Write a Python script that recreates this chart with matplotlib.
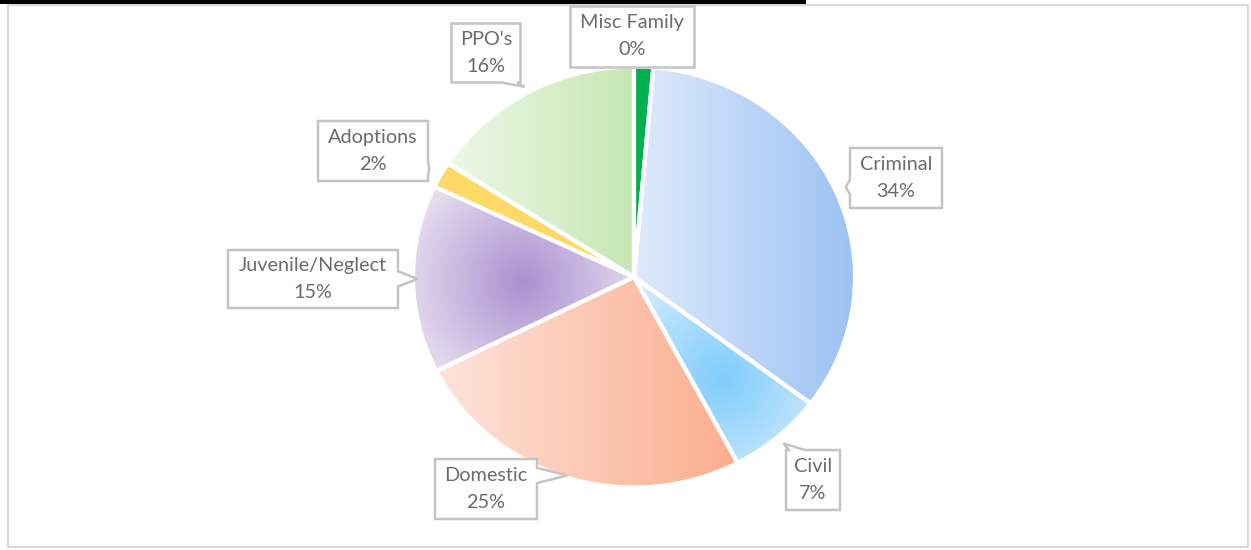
import numpy as np
import matplotlib
matplotlib.use("Agg")
import matplotlib.pyplot as plt
from matplotlib.patches import Polygon, Rectangle
from matplotlib.colors import to_rgb

# ---- data ----
categories = ["Misc Family", "Criminal", "Civil", "Domestic", "Juvenile/Neglect", "Adoptions", "PPO's"]
values = [1.4, 34, 7, 25.5, 14.5, 2, 16]
pct_labels = ["0%", "34%", "7%", "25%", "15%", "2%", "16%"]

# ---- styles ----
fills = [
    ("solid", "#00b050"),
    ("linear", "#dfeafb", "#9cc2f3"),
    ("radial", (722, 378), "#7fcdfc", "#d2ebfd", 120),
    ("linear", "#fde4db", "#fbad8d"),
    ("radial", (522, 282), "#ac90d0", "#e4dcef", 120),
    ("solid", "#ffd966"),
    ("linear", "#eef8e9", "#c6e7b2"),
]
# label boxes (pixel centre x, centre y, width, height)
boxes = [
    (632, 36, 124, 61),
    (896, 178, 92, 60),
    (813, 480, 54, 60),
    (486, 489, 102, 60),
    (313, 279, 170, 58),
    (373, 151, 110, 60),
    (486, 53, 69, 59),
]
tip_k = [None, 1.05, 1.04, 0.99, 0.98, 1.06, 1.03]

W, H = 1251, 550
SY = 1.05
plt.rcParams['font.family'] = ['Lato', 'DejaVu Sans']
fig = plt.figure(figsize=(W / 100, H / 100), dpi=100)
ax = fig.add_axes([0, 0, 1, 1])


def P(px, py):
    return np.array([px, (H - py) * SY])


cx, cy = P(634, 277)
R = 221
wedges, _ = ax.pie(values, startangle=90, counterclock=False, center=(cx, cy), radius=R,
                   explode=[0.012] * len(values), frame=True,
                   wedgeprops=dict(edgecolor="white", linewidth=3))

for w, f in zip(wedges, fills):
    w.set_zorder(3)
    if f[0] == "solid":
        w.set_facecolor(f[1])
        continue
    w.set_facecolor("none")
    ext = w.get_path().transformed(w.get_patch_transform()).get_extents()
    x0, y0, x1, y1 = ext.x0, ext.y0, ext.x1, ext.y1
    n = 300
    if f[0] == "linear":
        c0, c1 = np.array(to_rgb(f[1])), np.array(to_rgb(f[2]))
        t = np.linspace(0, 1, n)[None, :, None]
        img = c0 * (1 - t) + c1 * t
        img = np.repeat(img, 2, axis=0)
    else:
        ccx, ccy = P(*f[1])
        c0, c1 = np.array(to_rgb(f[2])), np.array(to_rgb(f[3]))
        xs = np.linspace(x0, x1, n)
        ys = np.linspace(y0, y1, n)
        X, Y = np.meshgrid(xs, ys)
        d = np.hypot(X - ccx, (Y - ccy) / SY)
        t = np.clip(d / f[4], 0, 1)[:, :, None]
        img = c0 * (1 - t) + c1 * t
    im = ax.imshow(img, extent=(x0, x1, y0, y1), origin="lower", aspect="auto",
                   interpolation="bilinear", zorder=2)
    im.set_clip_path(w)


def callout(box, lines, tip):
    bx, by, bw, bh = box
    x0, x1 = bx - bw / 2, bx + bw / 2
    y0, y1 = (H - (by + bh / 2)) * SY, (H - (by - bh / 2)) * SY
    corners = [(x0, y1), (x1, y1), (x1, y0), (x0, y0)]
    verts = []
    edge = None
    if tip is not None:
        tx, ty = tip
        dist = {"top": ty - y1, "right": tx - x1, "bottom": y0 - ty, "left": x0 - tx}
        edge = max(dist, key=dist.get)
    hw = 8
    for i, c in enumerate(corners):
        verts.append(c)
        name = ["top", "right", "bottom", "left"][i]
        if name == edge:
            if name == "top":
                b = np.clip(tx, x0 + hw + 3, x1 - hw - 3)
                verts += [(b - hw, y1), (tx, ty), (b + hw, y1)]
            elif name == "right":
                b = np.clip(ty, y0 + hw + 3, y1 - hw - 3)
                verts += [(x1, b + hw), (tx, ty), (x1, b - hw)]
            elif name == "bottom":
                b = np.clip(tx, x0 + hw + 3, x1 - hw - 3)
                verts += [(b + hw, y0), (tx, ty), (b - hw, y0)]
            else:
                b = np.clip(ty, y0 + hw + 3, y1 - hw - 3)
                verts += [(x0, b - hw), (tx, ty), (x0, b + hw)]
    ax.add_patch(Polygon(verts, closed=True, facecolor="white", edgecolor="#c4c4c4",
                         linewidth=1.8, zorder=5))
    for j, s in enumerate(lines):
        ax.text(bx, (H - (by + (j - 0.5) * 26.5)) * SY, s, ha="center", va="center",
                fontsize=14.3, color="#6b6b6b", zorder=6)


for w, cat, lab, box, k in zip(wedges, categories, pct_labels, boxes, tip_k):
    tip = None
    if k is not None:
        mid = np.deg2rad((w.theta1 + w.theta2) / 2)
        tip = (w.center[0] + w.r * k * np.cos(mid), w.center[1] + w.r * k * np.sin(mid))
    callout(box, [cat, lab], tip)

# chart frame
ax.add_patch(Rectangle((8, (H - 547) * SY), 1240, 542 * SY, facecolor="none",
                       edgecolor="#d9d9d9", linewidth=1.5, zorder=1))
ax.add_patch(Rectangle((0, (H - 3.5) * SY), 806, 3.5 * SY, facecolor="black",
                       edgecolor="none", zorder=7))

ax.set_xlim(0, W)
ax.set_ylim(0, H * SY)
ax.set_aspect("auto")
ax.axis("off")
fig.savefig("out.png", dpi=100, facecolor="white")
